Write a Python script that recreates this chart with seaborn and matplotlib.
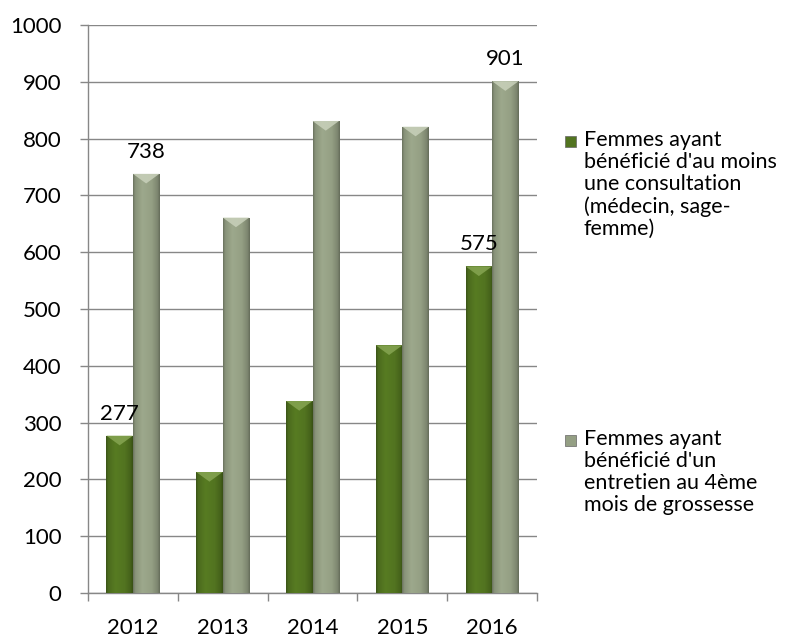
import numpy as np
import pandas as pd
import matplotlib
matplotlib.use("Agg")
import matplotlib.pyplot as plt
import seaborn as sns
from matplotlib.colors import to_rgb
from matplotlib.patches import Polygon, Rectangle

# ---------------- data ----------------
years = ["2012", "2013", "2014", "2015", "2016"]
consultation = [277, 213, 338, 436, 575]
entretien = [738, 661, 831, 821, 901]
series_names = [
    "Femmes ayant\nbénéficié d'au moins\nune consultation\n(médecin, sage-\nfemme)",
    "Femmes ayant\nbénéficié d'un\nentretien au 4ème\nmois de grossesse",
]
labelled_years = ["2012", "2016"]
yticks = [0, 100, 200, 300, 400, 500, 600, 700, 800, 900, 1000]

colors = ["#527420", "#949f84"]
top_colors = ["#86a552", "#c9d1bb"]

df = pd.DataFrame({
    "year": years * 2,
    "value": consultation + entretien,
    "serie": [series_names[0]] * len(years) + [series_names[1]] * len(years),
})

sns.set_theme(style="white")
plt.rcParams["font.family"] = ["Lato", "DejaVu Sans"]

W, H = 787, 638
fig = plt.figure(figsize=(W / 100, H / 100), dpi=100)
ax = fig.add_axes([88 / W, 1 - 593 / H, (537 - 88) / W, (593 - 25) / H])

sns.barplot(data=df, x="year", y="value", hue="serie", hue_order=series_names,
            order=years, palette=colors, width=0.59, saturation=1, ax=ax,
            legend=False, linewidth=0, edgecolor="none")

ax.set_xlim(-0.5, len(years) - 0.5)
ax.set_ylim(0, 1000)

# gradient shading + top bevel on each bar
def shade(base, n=80):
    t = np.linspace(0, 1, n)
    f = np.interp(t, [0, 0.08, 0.35, 0.7, 0.92, 1.0], [0.72, 0.92, 1.06, 1.0, 0.84, 0.68])
    rgb = np.clip(np.array(base)[None, :] * f[:, None], 0, 1)
    return rgb[None, :, :]

def series_index(p):
    fc = np.array(to_rgb(p.get_facecolor()))
    return int(np.argmin([np.sum((fc - np.array(to_rgb(c))) ** 2) for c in colors]))

bars = [p for p in ax.patches if p.get_height() > 0]
for p in bars:
    idx = series_index(p)
    x0, w, h = p.get_x(), p.get_width(), p.get_height()
    im = ax.imshow(shade(to_rgb(colors[idx])), extent=[x0, x0 + w, 0, h],
                   aspect="auto", interpolation="bilinear", zorder=p.get_zorder() + 0.1)
    im.set_clip_path(p)
    tri_h = 17
    tri = Polygon([(x0, h), (x0 + w, h), (x0 + w / 2, h - tri_h)], closed=True,
                  facecolor=top_colors[idx], edgecolor="none", alpha=0.85,
                  zorder=p.get_zorder() + 0.2)
    ax.add_patch(tri)

ax.set_xlim(-0.5, len(years) - 0.5)
ax.set_ylim(0, 1000)

# data labels
values = {series_names[0]: consultation, series_names[1]: entretien}
for p in bars:
    idx = series_index(p)
    cx = p.get_x() + p.get_width() / 2
    cat = int(round(cx))
    if years[cat] in labelled_years:
        ax.annotate(str(values[series_names[idx]][cat]), (cx, p.get_height()),
                    xytext=(0, 11.5), textcoords="offset points",
                    ha="center", va="baseline", fontsize=16, color="black", zorder=10)

# axes styling
grid_c = "#878787"
ax.set_yticks(yticks)
ax.yaxis.grid(True, color=grid_c, linewidth=1.0)
ax.xaxis.grid(False)
ax.set_axisbelow(True)
for s in ["top", "right"]:
    ax.spines[s].set_visible(False)
for s in ["left", "bottom"]:
    ax.spines[s].set_color(grid_c)
    ax.spines[s].set_linewidth(1.0)
    ax.spines[s].set_zorder(0.5)

ax.tick_params(axis="y", left=True, length=6, width=1, color=grid_c, pad=13,
               labelsize=16, labelcolor="black")
ax.set_xticks(np.arange(-0.5, len(years), 1), minor=True)
ax.tick_params(axis="x", which="major", bottom=True, length=0, pad=18,
               labelsize=16, labelcolor="black")
ax.tick_params(axis="x", which="minor", bottom=True, length=6, width=1, color=grid_c)
ax.set_xlabel("")
ax.set_ylabel("")

# legend (drawn manually to match the layout)
leg_text_x = 584
leg_tops = [130, 429]
for i, name in enumerate(series_names):
    yt = leg_tops[i]
    fig.patches.append(Rectangle((565 / W, 1 - (yt + 17) / H), 11 / W, 11 / H,
                                 transform=fig.transFigure, figure=fig,
                                 facecolor=colors[i], edgecolor="#666666", linewidth=0.5))
    fig.text(leg_text_x / W, 1 - yt / H, name, ha="left", va="top",
             fontsize=15.5, linespacing=1.13, color="black")

fig.savefig("out.png", dpi=100)
